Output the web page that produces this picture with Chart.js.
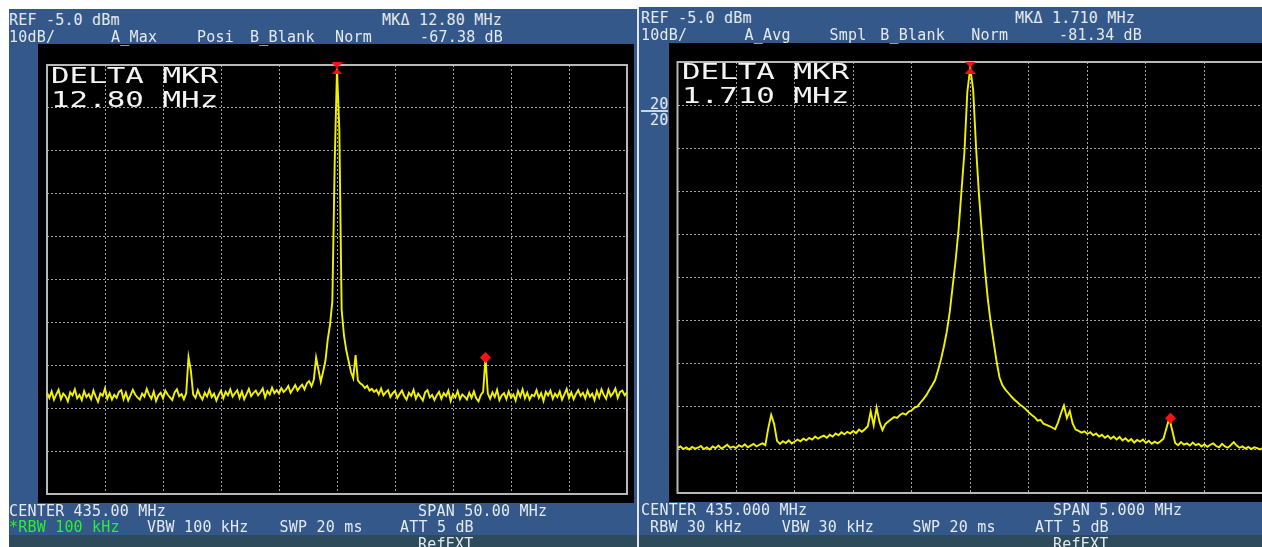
<!DOCTYPE html>
<html>
<head>
<meta charset="utf-8">
<title>Spectrum analyzer screens</title>
<script src="https://cdn.jsdelivr.net/npm/chart.js@4/dist/chart.umd.min.js"></script>
<style>
  html, body { margin: 0; padding: 0; background: #ffffff; }
  body { width: 1262px; height: 547px; position: relative; overflow: hidden;
         font-family: "DejaVu Sans Mono", "Liberation Mono", monospace; }
  .panel { position: absolute; background: #335889; }
  .band  { position: absolute; background: #2d4b5b; }
  .sep   { position: absolute; background: #dfe6ef; }
  .rule  { position: absolute; background: #c8d6ea; }
  canvas { position: absolute; background: #000000; }
  .t   { position: absolute; font-size: 15px; line-height: 15px; color: #e4e9f0;
         white-space: pre; letter-spacing: 0.2px; }
  .g   { color: #2cf02c; }
  .big { position: absolute; font-size: 21px; line-height: 24px; color: #f4f4f4;
         white-space: pre; transform: scaleX(1.47); transform-origin: 0 0; }
</style>
</head>
<body>
<div class="panel" style="left:9px;top:9px;width:628px;height:538px;"></div>
<div class="band"  style="left:9px;top:535px;width:628px;height:12px;"></div>
<div class="sep"   style="left:637px;top:7px;width:2px;height:540px;"></div>
<div class="panel" style="left:639px;top:7px;width:623px;height:540px;"></div>
<div class="band"  style="left:639px;top:535px;width:623px;height:12px;"></div>
<div class="rule"  style="left:641px;top:110px;width:27px;height:2px;"></div>

<canvas id="leftScreen"  width="596" height="459" style="left:38px;top:44px;"></canvas>
<canvas id="rightScreen" width="601" height="459" style="left:669px;top:43px;"></canvas>

<script>
// ---- Left screen: CENTER 435.00 MHz, SPAN 50.00 MHz, REF -5.0 dBm, 10 dB/div ----
const leftCenterMHz = 435.00;
const leftSpanMHz = 50.00;
const leftSweepStepMHz = 0.2;          // spacing of the sweep points below
// trace A (max hold), dBm, one value per sweep point from 410.0 MHz
const leftLevel = [
  -81.4, -82.6, -81.1, -83.0, -81.8, -80.7, -82.9, -81.6, -82.2, -83.4,
  -81.3, -82.0, -80.6, -82.7, -81.9, -83.1, -81.0, -82.4, -81.7, -82.9,
  -80.9, -82.3, -83.5, -81.6, -82.1, -80.4, -82.8, -81.5, -83.0, -81.9,
  -82.6, -81.2, -80.8, -82.9, -81.4, -83.2, -82.0, -80.7, -81.8, -82.5,
  -83.0, -81.6, -82.3, -80.5, -81.9, -82.8, -81.1, -83.3, -82.0, -81.4,
  -82.7, -80.9, -81.8, -82.5, -83.1, -81.3, -80.6, -82.2, -81.7, -82.9,
  -81.5, -73.1, -76.2, -81.8, -82.6, -80.8, -82.1, -83.0, -81.4, -82.3,
  -80.7, -82.4, -81.6, -83.2, -81.9, -80.9, -82.7, -81.2, -82.0, -80.6,
  -82.3, -81.5, -80.8, -82.6, -81.1, -82.9, -81.7, -80.5, -82.2, -81.4,
  -80.9, -82.0, -81.3, -80.4, -82.5, -81.0, -81.8, -80.2, -81.5, -80.8,
  -81.6, -80.3, -81.2, -80.7, -79.8, -81.4, -80.5, -79.6, -80.9, -80.1,
  -79.5, -80.6, -79.2, -78.7, -79.9, -78.4, -73.2, -76.0, -78.8, -76.5,
  -74.0, -69.0, -65.5, -60.0, -28.0, -5.8, -20.0, -62.0, -68.0, -71.5,
  -74.0, -76.5, -78.0, -72.6, -78.5, -79.2, -79.6, -80.3, -79.8, -80.9,
  -80.5, -81.2, -80.7, -81.8, -80.4, -82.0, -81.3, -80.8, -82.4, -81.5,
  -81.0, -82.6, -81.7, -80.9, -82.2, -83.0, -81.4, -82.1, -80.7, -82.8,
  -81.6, -82.4, -83.2, -81.3, -80.8, -82.5, -81.9, -83.1, -82.0, -81.2,
  -82.8, -81.5, -82.2, -80.9, -83.3, -81.7, -82.5, -81.0, -82.9, -81.8,
  -82.3, -83.0, -81.4, -82.6, -81.1, -82.7, -83.4, -81.9, -81.2, -73.18,
  -81.6, -82.8, -81.3, -82.4, -80.7, -83.1, -82.0, -81.5, -82.9, -81.1,
  -82.5, -81.8, -83.2, -81.0, -82.3, -80.6, -82.7, -81.4, -83.0, -81.9,
  -82.2, -80.8, -82.6, -81.5, -83.3, -81.2, -82.0, -80.9, -82.8, -81.6,
  -82.4, -81.1, -83.0, -81.8, -80.5, -82.6, -81.3, -82.9, -81.7, -80.8,
  -82.1, -81.4, -82.7, -80.9, -82.3, -81.6, -83.1, -81.0, -82.5, -80.6,
  -81.9, -82.8, -80.7, -82.2, -81.5, -80.4, -82.6, -81.2, -80.9, -82.0,
  -81.3
];
const leftRefMarker = { freq: 435.00, level: -5.8 };     // normal marker on the carrier
const leftDeltaMarker = { freq: 12.80, level: -67.38 };  // MKΔ readout

// ---- Right screen: CENTER 435.000 MHz, SPAN 5.000 MHz, REF -5.0 dBm, 10 dB/div ----
const rightCenterMHz = 435.000;
const rightSpanMHz = 5.000;
const rightSweepStepMHz = 0.025;
// trace A (average), dBm, one value per sweep point from 432.500 MHz
const rightLevel = [
  -94.6, -94.2, -94.8, -94.4, -94.9, -94.3, -94.7, -94.5, -94.1, -94.8,
  -94.4, -94.9, -94.2, -94.6, -94.0, -94.7, -94.3, -93.8, -94.5, -94.2,
  -94.6, -93.9, -94.3, -93.7, -94.4, -94.0, -93.6, -94.2, -93.8, -93.5,
  -93.9, -90.0, -86.9, -89.0, -92.9, -93.6, -93.0, -93.4, -92.8, -93.5,
  -93.1, -92.6, -93.0, -92.4, -92.8, -92.2, -92.6, -91.9, -92.4, -92.0,
  -91.7, -92.2, -91.5, -91.9, -91.2, -91.6, -90.9, -91.4, -90.8, -91.2,
  -90.6, -91.1, -90.3, -90.8, -90.2, -89.5, -86.1, -89.3, -85.2, -88.5,
  -90.4, -89.0, -88.4, -87.9, -87.4, -87.6, -86.9, -86.5, -86.8, -86.1,
  -85.8, -85.2, -84.9, -84.0, -83.2, -82.3, -81.1, -80.0, -78.8, -76.5,
  -74.0, -71.0, -67.5, -63.0, -57.0, -51.0, -44.0, -35.0, -26.0, -12.0,
  -6.3, -11.5, -25.0, -36.0, -45.0, -53.0, -60.0, -65.5, -70.0, -74.5,
  -78.2, -80.0, -81.0, -81.8, -82.6, -83.3, -83.9, -84.5, -85.0, -85.6,
  -86.3, -86.9, -87.4, -88.2, -88.0, -88.9, -89.2, -89.5, -89.8, -90.2,
  -88.6, -86.5, -84.7, -87.6, -86.0, -88.9, -90.3, -90.6, -91.0, -90.7,
  -91.3, -90.9, -91.6, -91.2, -91.9, -91.5, -92.2, -91.7, -92.4, -91.9,
  -92.6, -92.0, -92.8, -92.3, -93.0, -92.5, -93.3, -92.7, -93.1, -92.6,
  -93.4, -92.9, -93.6, -93.1, -93.5, -93.0, -92.4, -90.0, -87.64, -90.5,
  -93.4, -93.9, -93.2, -93.8, -93.5, -94.0, -93.3, -93.9, -93.6, -94.2,
  -93.7, -94.3, -93.8, -93.5, -94.1, -94.4, -93.6, -94.2, -94.5, -93.9,
  -93.2, -94.0, -94.5, -94.2, -94.7, -94.3, -94.8, -94.4, -94.6, -94.9,
  -94.5
];
const rightRefMarker = { freq: 435.000, level: -6.3 };
const rightDeltaMarker = { freq: 1.710, level: -81.34 };

// amplitude axis shared by both screens
const refLevelDbm = -5.0;
const dbPerDiv = 10;
const verticalDivs = 10;
const horizontalDivs = 10;

// ---------------------------------------------------------------------------
const TRACE_COLOR = '#f2f200';
const MARKER_COLOR = '#ff1010';
const GRID_COLOR = '#a4a4a4';
const FRAME_COLOR = '#b8b8b8';

function sweepPoints(center, span, step, levels) {
  const start = center - span / 2;
  return levels.map((y, i) => ({ x: +(start + i * step).toFixed(4), y }));
}

// red hourglass used for the reference marker
function hourglassGlyph() {
  const c = document.createElement('canvas');
  c.width = 11; c.height = 12;
  const g = c.getContext('2d');
  g.fillStyle = MARKER_COLOR;
  g.beginPath(); g.moveTo(0, 0); g.lineTo(11, 0); g.lineTo(5.5, 6); g.closePath(); g.fill();
  g.beginPath(); g.moveTo(5.5, 6); g.lineTo(11, 12); g.lineTo(0, 12); g.closePath(); g.fill();
  return c;
}

const framePlugin = {
  id: 'screenFrame',
  beforeDatasetsDraw(chart) {
    const { ctx, chartArea: a } = chart;
    ctx.save();
    ctx.strokeStyle = FRAME_COLOR;
    ctx.lineWidth = 2;
    ctx.strokeRect(a.left, a.top, a.right - a.left, a.bottom - a.top);
    ctx.restore();
  }
};

function axis(min, max, divs) {
  return {
    type: 'linear', min, max, display: true,
    ticks: { display: false, stepSize: (max - min) / divs },
    grid: { color: GRID_COLOR, lineWidth: 1, drawTicks: false },
    border: { display: false, dash: [2, 2] }
  };
}

function drawScreen(id, center, span, step, levels, ref, delta, padding) {
  const deltaPoint = { x: ref.freq + delta.freq, y: ref.level + delta.level };
  new Chart(document.getElementById(id), {
    type: 'scatter',
    data: {
      datasets: [
        { data: [{ x: ref.freq, y: ref.level }], pointStyle: hourglassGlyph(),
          pointRadius: 6, showLine: false, clip: false },
        { data: [deltaPoint], pointStyle: 'rectRot', pointRadius: 5.5,
          backgroundColor: MARKER_COLOR, borderColor: MARKER_COLOR, borderWidth: 0,
          showLine: false, clip: false },
        { data: sweepPoints(center, span, step, levels), showLine: true,
          borderColor: TRACE_COLOR, borderWidth: 1.9, pointRadius: 0, tension: 0,
          fill: false }
      ]
    },
    options: {
      responsive: false, animation: false, devicePixelRatio: 1, events: [],
      layout: { padding },
      plugins: { legend: { display: false }, tooltip: { enabled: false } },
      scales: {
        x: axis(center - span / 2, center + span / 2, horizontalDivs),
        y: axis(refLevelDbm - dbPerDiv * verticalDivs, refLevelDbm, verticalDivs)
      }
    },
    plugins: [framePlugin]
  });
}

drawScreen('leftScreen', leftCenterMHz, leftSpanMHz, leftSweepStepMHz, leftLevel,
  leftRefMarker, leftDeltaMarker, { left: 9, top: 21, right: 7, bottom: 9 });
drawScreen('rightScreen', rightCenterMHz, rightSpanMHz, rightSweepStepMHz, rightLevel,
  rightRefMarker, rightDeltaMarker, { left: 8.5, top: 19, right: 6.5, bottom: 9 });

// ---- annotation text ----
const CAP = 1.75;        // box top to cap top, 15px mono
const BIG_CAP = 3.96;    // box top to cap top, 21px mono on 24px lines
const mhz = (v, d) => v.toFixed(d) + ' MHz';
const db = (v) => v.toFixed(2) + ' dB';

const labels = [
  // left header
  ['REF ' + refLevelDbm.toFixed(1) + ' dBm', 9, 15],
  ['MK\u0394 ' + mhz(leftDeltaMarker.freq, 2), 382, 15],
  ['10dB/', 9, 32], ['A_Max', 111, 32], ['Posi', 197, 32], ['B_Blank', 250, 32],
  ['Norm', 335, 32], [db(leftDeltaMarker.level), 420, 32],
  // left footer
  ['CENTER ' + mhz(leftCenterMHz, 2), 9, 505.7], ['SPAN ' + mhz(leftSpanMHz, 2), 418, 505.7],
  ['*RBW 100 kHz', 9, 521.7, 'g'], ['VBW 100 kHz', 147, 521.7], ['SWP 20 ms', 279.6, 521.7],
  ['ATT 5 dB', 400, 521.7], ['RefEXT', 418, 539],
  // right header
  ['REF ' + refLevelDbm.toFixed(1) + ' dBm', 641, 12.7],
  ['MK\u0394 ' + mhz(rightDeltaMarker.freq, 3), 1015, 12.7],
  ['10dB/', 641, 30], ['A_Avg', 744.6, 30], ['Smpl', 829.6, 30], ['B_Blank', 880.3, 30],
  ['Norm', 971.3, 30], [db(rightDeltaMarker.level), 1059, 30],
  // right footer
  ['CENTER ' + mhz(rightCenterMHz, 3), 641, 505], ['SPAN ' + mhz(rightSpanMHz, 3), 1053, 505],
  ['RBW 30 kHz', 650, 522], ['VBW 30 kHz', 781.7, 522], ['SWP 20 ms', 912.6, 522],
  ['ATT 5 dB', 1035, 522], ['RefEXT', 1053, 539],
  // right margin readout
  ['20', 650, 98.3], ['20', 650, 115]
];
for (const [text, x, capTop, extra] of labels) {
  const el = document.createElement('div');
  el.className = 't' + (extra ? ' ' + extra : '');
  el.textContent = text;
  el.style.left = x + 'px';
  el.style.top = (capTop - CAP) + 'px';
  document.body.appendChild(el);
}

const bigLabels = [
  ['DELTA MKR\n' + mhz(leftDeltaMarker.freq, 2), 51, 68.3],
  ['DELTA MKR\n' + mhz(rightDeltaMarker.freq, 3), 682, 63.5]
];
for (const [text, x, capTop] of bigLabels) {
  const el = document.createElement('div');
  el.className = 'big';
  el.textContent = text;
  el.style.left = x + 'px';
  el.style.top = (capTop - BIG_CAP) + 'px';
  document.body.appendChild(el);
}
</script>
</body>
</html>
